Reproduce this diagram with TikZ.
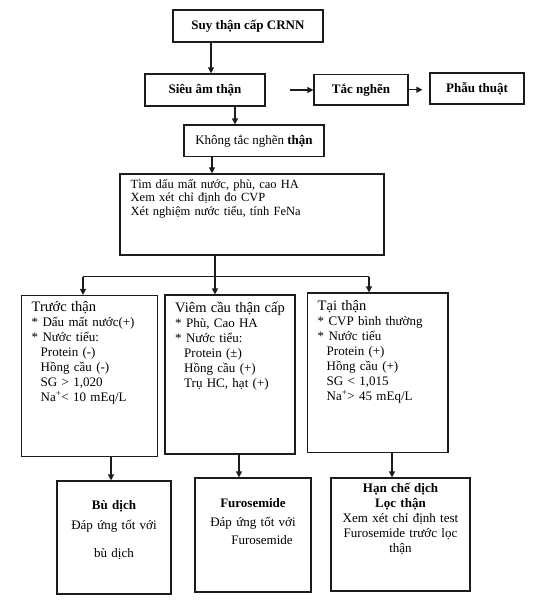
\documentclass[tikz,border=0pt]{standalone}
\usepackage{fontspec}
\setmainfont{Liberation Serif}
\usepackage{tikz}
\usetikzlibrary{arrows.meta,positioning,calc}
\definecolor{ink}{HTML}{1C1C1C}
\tikzset{
  >={Triangle[length=6pt,width=6pt]},
  box/.style={draw=ink,line width=1.2pt,inner sep=0pt,align=center},
  headbox/.style={box,font=\fontsize{13}{15}\selectfont\bfseries},
  bodytext/.style={anchor=base west,align=left,inner sep=0pt,font=\fontsize{13}{15}\selectfont},
  endtext/.style={anchor=base,align=center,inner sep=0pt,font=\fontsize{13}{15}\selectfont},
  flow/.style={->,line width=1.2pt,draw=ink}
}
\newcommand{\ind}{\hspace*{9pt}}
\newcommand{\bul}{{*}~}
\newcommand{\headline}[1]{{\fontsize{14.5}{15}\selectfont #1}}

\begin{document}
\begin{tikzpicture}[x=1pt,y=-1pt]
  \useasboundingbox (0,0) rectangle (536,600);
  % upper chain
  \node[headbox,minimum width=150pt,minimum height=32pt] (suy) at (248,26) {Suy thận cấp CRNN};
  \node[headbox,minimum width=120pt,minimum height=32pt] (sieuam) at (205,90) {Siêu âm thận};
  \node[headbox,minimum width=94pt,minimum height=30.5pt] (tac) at (361,89.75) {Tắc nghẽn};
  \node[headbox,minimum width=94pt,minimum height=31pt] (phau) at (477,88.5) {Phẫu thuật};
  \node[box,font=\fontsize{13}{15}\selectfont,minimum width=140pt,minimum height=31.5pt] (khong) at (254,140.75) {Không tắc nghẽn \textbf{thận}};
  \node[box,minimum width=264pt,minimum height=81pt] (kham) at (252,214.5) {};
  \node[bodytext,text width=250pt,font=\fontsize{12.5}{13.5}\selectfont] (khamtxt) at (130.5,188)
    {Tìm dấu mất nước, phù, cao HA\\Xem xét chỉ định đo CVP\\Xét nghiệm nước tiểu, tính FeNa};

  % three causes
  \node[box,minimum width=136pt,minimum height=161pt] (truoc) at (89.5,376) {};
  \node[box,minimum width=130pt,minimum height=159pt] (viem) at (230,374.5) {};
  \node[box,minimum width=140.5pt,minimum height=159.5pt] (tai) at (377.75,372.75) {};
  \node[bodytext,text width=125pt] (truoctxt) at (31.5,311)
    {\headline{Trước thận}\\\bul Dấu mất nước(+)\\\bul Nước tiểu:\\\ind Protein (-)\\\ind Hồng cầu (-)\\\ind SG > 1,020\\\ind Na\textsuperscript{+}< 10 mEq/L};
  \node[bodytext,text width=120pt] (viemtxt) at (175,312)
    {\headline{Viêm cầu thận cấp}\\\bul Phù, Cao HA\\\bul Nước tiểu:\\\ind Protein (±)\\\ind Hồng cầu (+)\\\ind Trụ HC, hạt (+)};
  \node[bodytext,text width=130pt] (taitxt) at (317.5,310)
    {\headline{Tại thận}\\\bul CVP bình thường\\\bul Nước tiểu\\\ind Protein (+)\\\ind Hồng cầu (+)\\\ind SG < 1,015\\\ind Na\textsuperscript{+}> 45 mEq/L};

  % treatment
  \node[box,minimum width=114pt,minimum height=113pt] (budich) at (114,537.5) {};
  \node[box,minimum width=116pt,minimum height=114pt] (furo) at (253,535) {};
  \node[box,minimum width=139pt,minimum height=113pt] (hanche) at (400.5,534.5) {};
  \node[endtext,text width=110pt] (budichtxt) at (114,509)
    {\textbf{Bù dịch}\\[5pt]Đáp ứng tốt với\\[13pt]bù dịch};
  \node[endtext,text width=112pt] (furotxt) at (253,507)
    {\textbf{Furosemide}\\[4pt]Đáp ứng tốt với\\[3pt]\hspace*{18pt}Furosemide};
  \node[endtext,text width=135pt] (hanchetxt) at (400.5,492)
    {\textbf{Hạn chế dịch}\\\textbf{Lọc thận}\\Xem xét chỉ định test\\Furosemide trước lọc\\thận};

  % connectors
  \draw[flow] ([xshift=6pt]sieuam.north |- suy.south) -- ([xshift=6pt]sieuam.north);
  \draw[flow] ([xshift=24pt]sieuam.east) -- (sieuam.east -| tac.west);
  \draw[flow] (tac.east) -- ([xshift=-7pt]phau.west |- tac.east);
  \draw[flow] ([xshift=30pt]sieuam.south) -- ([xshift=30pt]sieuam.south |- khong.north);
  \draw[flow] ([xshift=-42pt]khong.south) -- ([xshift=-42pt]khong.south |- kham.north);
  \coordinate (split) at ($(kham.south)+(-37,21)$);
  \draw[line width=1.2pt,ink] (kham.south -| split) -- (split);
  \draw[line width=1.2pt,ink] ([xshift=-6.5pt]truoc.north |- split) -- ([xshift=-8.75pt]tai.north |- split);
  \foreach \b/\dx in {truoc/-6.5,viem/-15,tai/-8.75}
    \draw[flow] ([xshift=\dx pt]\b.north |- split) -- ([xshift=\dx pt]\b.north);
  \foreach \b/\c/\dx in {truoc/budich/21.5,viem/furo/9,tai/hanche/14.25}
    \draw[flow] ([xshift=\dx pt]\b.south) -- ([xshift=\dx pt]\b.south |- \c.north);
\end{tikzpicture}
\end{document}
